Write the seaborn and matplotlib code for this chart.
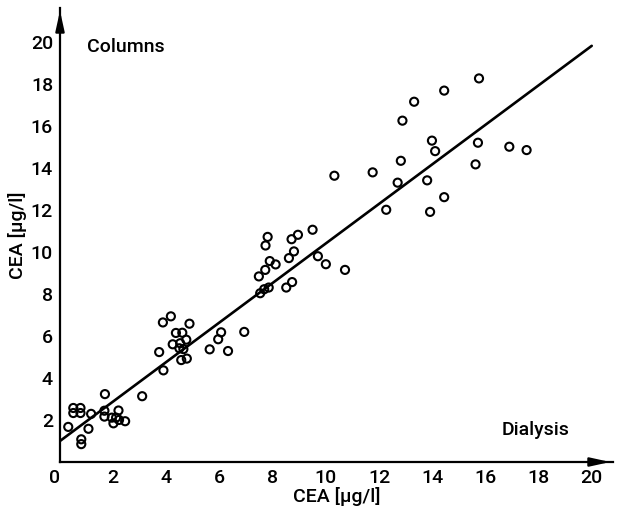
import numpy as np
import pandas as pd
import matplotlib
matplotlib.use("Agg")
import matplotlib.pyplot as plt
import seaborn as sns

dialysis = [0.31, 0.50, 0.50, 0.77, 0.77, 0.80, 0.80, 1.07, 1.17, 1.69,
            1.67, 1.67, 1.95, 2.01, 2.11, 2.20, 2.22, 2.45, 3.09, 3.73,
            3.89, 3.87, 4.17, 4.24, 4.36, 4.60, 4.52, 4.75, 4.49, 4.64,
            4.56, 4.77, 4.87, 5.63, 5.95, 6.06, 6.32, 6.93, 7.48, 7.53,
            7.68, 7.85, 7.72, 7.89, 8.11, 7.73, 7.81, 8.51, 8.73, 8.61,
            8.80, 8.71, 8.95, 9.50, 9.70, 10.00, 10.72, 10.32, 11.76, 12.27,
            12.70, 12.82, 12.88, 13.32, 14.45, 15.76, 13.81, 13.92, 13.99, 14.11,
            14.45, 15.63, 15.72, 16.90, 17.55]
columns = [1.67, 2.33, 2.57, 2.33, 2.57, 0.85, 1.08, 1.58, 2.29, 3.23,
           2.16, 2.44, 2.11, 1.84, 2.11, 2.45, 2.00, 1.94, 3.13, 5.23,
           4.36, 6.64, 6.93, 5.60, 6.14, 6.15, 5.65, 5.82, 5.41, 5.37,
           4.85, 4.92, 6.58, 5.36, 5.84, 6.17, 5.28, 6.19, 8.83, 8.03,
           8.22, 8.30, 9.14, 9.56, 9.40, 10.30, 10.71, 8.30, 8.56, 9.70,
           10.02, 10.60, 10.81, 11.05, 9.79, 9.41, 9.14, 13.62, 13.78, 12.00,
           13.29, 14.33, 16.24, 17.14, 17.67, 18.25, 13.40, 11.90, 15.29, 14.79,
           12.60, 14.16, 15.19, 15.00, 14.84]

# regression line end points
fit_x = [0, 20]
fit_y = [1.0, 19.8]

x_ticks = [0, 2, 4, 6, 8, 10, 12, 14, 16, 18, 20]
y_ticks = [2, 4, 6, 8, 10, 12, 14, 16, 18, 20]

df = pd.DataFrame({"dialysis": dialysis, "columns": columns})

sns.set_theme(style="white")
plt.rcParams["font.family"] = ["Roboto", "DejaVu Sans"]
plt.rcParams["font.weight"] = "medium"
plt.rcParams["axes.labelweight"] = "medium"
for key in ["text.color", "axes.labelcolor", "xtick.color", "ytick.color"]:
    plt.rcParams[key] = "black"

fig = plt.figure(figsize=(6.17, 5.08), dpi=100)
ax = fig.add_axes([60 / 617, 46 / 508, 553 / 617, 454 / 508])

sns.scatterplot(data=df, x="dialysis", y="columns", ax=ax, marker="o",
                s=34, facecolors="none", edgecolor="black", linewidth=1.5)
sns.lineplot(x=fit_x, y=fit_y, ax=ax, color="black", linewidth=1.9)

ax.set_xlim(0, 20.8)
ax.set_ylim(0, 21.6)
sns.despine(ax=ax)
for s in ["left", "bottom"]:
    ax.spines[s].set_linewidth(1.6)
    ax.spines[s].set_color("black")

ax.set_xticks(x_ticks)
ax.set_yticks(y_ticks)
ax.tick_params(direction="in", length=9.5, width=1.3, colors="black",
               labelsize=14, pad=5)
ax.get_xticklabels()[0].set_horizontalalignment("right")

ax.set_xlabel("CEA [µg/l]", fontsize=14, labelpad=0)
ax.set_ylabel("CEA [µg/l]", fontsize=14, labelpad=3)

# arrow heads on both axes
arrow = dict(arrowstyle="-|>,head_length=1.0,head_width=0.22", color="black", lw=1.6)
ax.annotate("", xy=(1.0, 0), xytext=(0.96, 0), xycoords="axes fraction",
            arrowprops=arrow, annotation_clip=False)
ax.annotate("", xy=(0, 1.0), xytext=(0, 0.96), xycoords="axes fraction",
            arrowprops=arrow, annotation_clip=False)

ax.text(1.0, 19.75, "Columns", fontsize=14, va="center", ha="left")
ax.text(16.6, 1.5, "Dialysis", fontsize=14, va="center", ha="left")

fig.savefig("out.png", dpi=100, facecolor="white")
